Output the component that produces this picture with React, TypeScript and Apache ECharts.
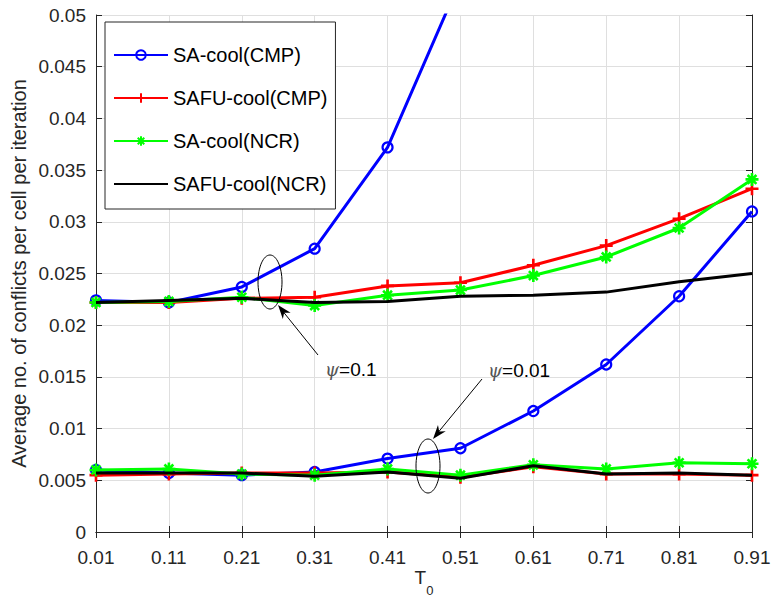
import React, { useEffect, useRef } from "react";
import * as echarts from "echarts";

const categories = ["0.01", "0.11", "0.21", "0.31", "0.41", "0.51", "0.61", "0.71", "0.81", "0.91"];

// psi = 0.1
const saCmpHigh = [0.0224, 0.0222, 0.0237, 0.0274, 0.0372, 0.0534, null, null, null, null];
const safuCmpHigh = [0.0222, 0.0222, 0.0226, 0.0227, 0.0238, 0.0241, 0.0258, 0.0277, 0.0303, 0.0332];
const saNcrHigh = [0.0222, 0.0223, 0.0227, 0.0219, 0.0229, 0.0234, 0.0248, 0.0266, 0.0294, 0.0341];
const safuNcrHigh = [0.0222, 0.0224, 0.0226, 0.0222, 0.0223, 0.0228, 0.0229, 0.0232, 0.0242, 0.0250];

// psi = 0.01
const saCmpLow = [0.0060, 0.0057, 0.0055, 0.0058, 0.0071, 0.0081, 0.0117, 0.0162, 0.0228, 0.0310];
const safuCmpLow = [0.0055, 0.0056, 0.0057, 0.0057, 0.0058, 0.0053, 0.0063, 0.0056, 0.0056, 0.0055];
const saNcrLow = [0.0060, 0.0061, 0.0056, 0.0055, 0.0061, 0.0055, 0.0065, 0.0061, 0.0067, 0.0066];
const safuNcrLow = [0.0057, 0.0057, 0.0057, 0.0054, 0.0058, 0.0052, 0.0064, 0.0056, 0.0057, 0.0055];

const names = ["SA-cool(CMP)", "SAFU-cool(CMP)", "SA-cool(NCR)", "SAFU-cool(NCR)"];

const FONT = "Liberation Sans";
const TXT = "#262626";

const PLUS = "path://M5 0L5 10M0 5L10 5";
const STAR = "path://M5 0L5 10M0 5L10 5M1.6 1.6L8.4 8.4M8.4 1.6L1.6 8.4";

function styleFor(i: number) {
  if (i === 0)
    return {
      symbol: "circle",
      symbolSize: 10,
      lineStyle: { color: "#0000ff", width: 3 },
      itemStyle: { color: "rgba(255,255,255,0)", borderColor: "#0000ff", borderWidth: 2.2 },
    };
  if (i === 1)
    return {
      symbol: PLUS,
      symbolSize: 13,
      lineStyle: { color: "#ff0000", width: 3 },
      itemStyle: { color: "#ff0000", borderColor: "#ff0000", borderWidth: 2.6 },
    };
  if (i === 2)
    return {
      symbol: STAR,
      symbolSize: 13,
      lineStyle: { color: "#00ff00", width: 3 },
      itemStyle: { color: "#00ff00", borderColor: "#00ff00", borderWidth: 2.6 },
    };
  return {
    symbol: "none",
    lineStyle: { color: "#000000", width: 3 },
    itemStyle: { color: "#000000" },
  };
}

export default function App() {
  const ref = useRef<HTMLDivElement>(null);
  useEffect(() => {
    const chart = echarts.init(ref.current!, null, { renderer: "svg" });
    const groups = [
      [saCmpHigh, safuCmpHigh, saNcrHigh, safuNcrHigh],
      [saCmpLow, safuCmpLow, saNcrLow, safuNcrLow],
    ];
    const series: any[] = [];
    groups.forEach((g) => {
      g.forEach((data, i) => {
        series.push({
          type: "line",
          name: names[i],
          data,
          z: 2 + i,
          clip: true,
          connectNulls: false,
          showAllSymbol: true,
          ...styleFor(i),
        });
      });
    });

    const ellipseStyle = { fill: "none", stroke: "#000", lineWidth: 1 };
    const arrowStyle = { stroke: "#000", lineWidth: 1 };

    function arrowHead(x1: number, y1: number, x2: number, y2: number) {
      const ang = Math.atan2(y2 - y1, x2 - x1);
      const L = 14, W = 5;
      const bx = x2 - L * Math.cos(ang), by = y2 - L * Math.sin(ang);
      const nx = -Math.sin(ang) * W, ny = Math.cos(ang) * W;
      const mx = x2 - L * 0.7 * Math.cos(ang), my = y2 - L * 0.7 * Math.sin(ang);
      return {
        type: "polygon",
        shape: { points: [[x2, y2], [bx + nx, by + ny], [mx, my], [bx - nx, by - ny]] },
        style: { fill: "#000" },
        z: 100,
      };
    }

    const legendData = names.map((n, i) =>
      i === 3 ? { name: n, itemStyle: { color: "rgba(0,0,0,0)", borderWidth: 0 } } : { name: n }
    );

    chart.setOption({
      animation: false,
      textStyle: { fontFamily: FONT },
      grid: { left: 96, top: 15, right: 21, bottom: 65, containLabel: false, outerBoundsMode: "none" },
      legend: {
        data: legendData,
        orient: "vertical",
        left: 105,
        top: 22,
        padding: [23, 8, 15, 8],
        itemWidth: 54,
        itemHeight: 12,
        itemGap: 23,
        backgroundColor: "#fff",
        borderColor: TXT,
        borderWidth: 1,
        borderRadius: 0,
        textStyle: { fontFamily: FONT, fontSize: 20, color: "#000" },
      },
      xAxis: [
        {
          type: "category",
          data: categories,
          boundaryGap: false,
          name: "{t|T}{s|0}",
          nameLocation: "middle",
          nameGap: 36,
          nameMoveOverlap: false,
          nameTextStyle: {
            fontFamily: FONT,
            rich: {
              t: { fontFamily: FONT, fontSize: 19, color: TXT },
              s: { fontFamily: FONT, fontSize: 13, color: TXT, verticalAlign: "bottom", padding: [0, 0, -10, 0] },
            },
          },
          axisLine: { lineStyle: { color: TXT, width: 1 } },
          axisTick: { inside: true, length: 6, alignWithLabel: true, lineStyle: { color: TXT } },
          axisLabel: { color: TXT, fontSize: 19, margin: 16, fontFamily: FONT },
          splitLine: { show: true, lineStyle: { color: "#dfdfdf", width: 1 } },
        },
        {
          type: "category",
          data: categories,
          boundaryGap: false,
          position: "top",
          axisLine: { lineStyle: { color: TXT, width: 1 } },
          axisTick: { inside: true, length: 6, lineStyle: { color: TXT } },
          axisLabel: { show: false },
          splitLine: { show: false },
        },
      ],
      yAxis: [
        {
          type: "value",
          min: 0,
          max: 0.05,
          interval: 0.005,
          name: "Average no. of conflicts per cell per iteration",
          nameLocation: "middle",
          nameGap: 67,
          nameMoveOverlap: false,
          nameTextStyle: { color: TXT, fontSize: 20, fontFamily: FONT },
          axisLine: { show: true, lineStyle: { color: TXT, width: 1 } },
          axisTick: { show: true, inside: true, length: 6, lineStyle: { color: TXT } },
          axisLabel: {
            color: TXT,
            fontSize: 19,
            margin: 10,
            fontFamily: FONT,
            formatter: (v: number) => String(+v.toFixed(3)),
          },
          splitLine: { show: true, lineStyle: { color: "#dfdfdf", width: 1 } },
        },
        {
          type: "value",
          min: 0,
          max: 0.05,
          interval: 0.005,
          position: "right",
          axisLine: { show: true, lineStyle: { color: TXT, width: 1 } },
          axisTick: { show: true, inside: true, length: 6, lineStyle: { color: TXT } },
          axisLabel: { show: false },
          splitLine: { show: false },
        },
      ],
      series,
      graphic: [
        { type: "ellipse", shape: { cx: 270, cy: 282, rx: 12, ry: 27 }, style: ellipseStyle, z: 100 },
        { type: "line", shape: { x1: 318, y1: 355, x2: 281, y2: 309 }, style: arrowStyle, z: 100 },
        arrowHead(318, 355, 278, 305),
        {
          type: "text",
          x: 325,
          y: 369,
          z: 100,
          style: {
            text: "{p|ψ}{n|=0.1}",
            verticalAlign: "middle",
            rich: {
              p: { fontFamily: "DejaVu Serif", fontStyle: "italic", fontSize: 18, fill: "#555" },
              n: { fontFamily: FONT, fontSize: 19, fill: "#000" },
            },
          },
        },
        { type: "ellipse", shape: { cx: 428, cy: 466, rx: 12, ry: 27 }, style: ellipseStyle, z: 100 },
        { type: "line", shape: { x1: 482, y1: 379, x2: 436, y2: 435 }, style: arrowStyle, z: 100 },
        arrowHead(482, 379, 433, 439),
        {
          type: "text",
          x: 488,
          y: 370,
          z: 100,
          style: {
            text: "{p|ψ}{n|=0.01}",
            verticalAlign: "middle",
            rich: {
              p: { fontFamily: "DejaVu Serif", fontStyle: "italic", fontSize: 18, fill: "#555" },
              n: { fontFamily: FONT, fontSize: 19, fill: "#000" },
            },
          },
        },
      ],
    });
    return () => chart.dispose();
  }, []);
  return <div ref={ref} style={{ width: 773, height: 597, position: "absolute", left: 0, top: 0, background: "#fff" }} />;
}
